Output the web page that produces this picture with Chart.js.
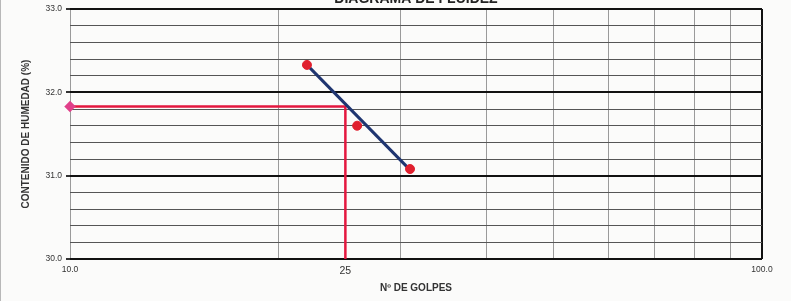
<!DOCTYPE html>
<html>
<head>
<meta charset="utf-8">
<script src="https://cdn.jsdelivr.net/npm/chart.js@4"></script>
<style>
  html, body { margin: 0; padding: 0; background: #fbfbfa; }
  #wrap { width: 791px; height: 301px; position: relative; border-left: 1px solid #b8b8b8; box-sizing: border-box; }
</style>
</head>
<body>
<div id="wrap"><canvas id="grafico" width="790" height="301"></canvas></div>
<script>
// donnees
const golpes = [22, 26, 31];
const humedad = [32.33, 31.60, 31.08];
const tendGolpes = [22, 31];
const tendHumedad = [32.33, 31.07];
const golpesRef = 25;
const limiteLiquido = 31.83;
const xTicks = [10, 20, 25, 30, 40, 50, 60, 70, 80, 90, 100];
const xLabels = { 10: '10.0', 25: '25', 100: '100.0' };

const entero = v => Math.abs(v - Math.round(v)) < 1e-6;

// titre coupe en haut de l'image
const titrePlugin = {
    id: 'titre',
    afterDraw(chart) {
        const c = chart.ctx;
        const a = chart.chartArea;
        c.save();
        c.font = 'bold 14px Arial, "Liberation Sans", sans-serif';
        c.fillStyle = '#222';
        c.textAlign = 'center';
        c.textBaseline = 'alphabetic';
        c.fillText('DIAGRAMA DE FLUIDEZ', (a.left + a.right) / 2, 3);
        c.restore();
    }
};

new Chart(document.getElementById('grafico'), {
    type: 'scatter',
    data: {
        datasets: [
            {
                label: 'Limite',
                type: 'line',
                data: [
                    { x: 10, y: limiteLiquido },
                    { x: golpesRef, y: limiteLiquido },
                    { x: golpesRef, y: 30 }
                ],
                borderColor: '#e4173f',
                borderWidth: 2.5,
                pointStyle: 'rectRot',
                pointRadius: [4, 0, 0],
                pointBackgroundColor: '#e0408a',
                pointBorderColor: '#e0408a',
                tension: 0,
                clip: false,
                order: 3
            },
            {
                label: 'Tendencia',
                type: 'line',
                data: tendGolpes.map((g, i) => ({ x: g, y: tendHumedad[i] })),
                borderColor: '#1f3570',
                borderWidth: 3,
                pointRadius: 0,
                order: 2
            },
            {
                label: 'Ensayos',
                data: golpes.map((g, i) => ({ x: g, y: humedad[i] })),
                pointRadius: 4.5,
                backgroundColor: '#e0202e',
                borderColor: '#e0202e',
                order: 1
            }
        ]
    },
    options: {
        responsive: false,
        animation: false,
        layout: { padding: { top: 8, left: 17, right: 29, bottom: 0 } },
        plugins: {
            legend: { display: false },
            tooltip: { enabled: false }
        },
        scales: {
            x: {
                type: 'logarithmic',
                min: 10,
                max: 100,
                afterBuildTicks: s => { s.ticks = xTicks.map(v => ({ value: v })); },
                afterFit: s => { s.height = 42; },
                border: { display: false },
                grid: {
                    drawTicks: false,
                    color: c => c.tick.value === 25 ? 'rgba(0,0,0,0)' : (c.tick.value === 100 ? '#111' : '#9a9a9a'),
                    lineWidth: c => c.tick.value === 100 ? 2 : 1
                },
                ticks: {
                    autoSkip: false,
                    maxRotation: 0,
                    padding: 6,
                    color: '#333',
                    font: c => ({ size: c.tick && c.tick.value === 25 ? 10.5 : 8.5, family: 'Arial, "Liberation Sans", sans-serif' }),
                    callback: v => xLabels[v] || ''
                },
                title: {
                    display: true,
                    text: 'Nº DE GOLPES',
                    color: '#333',
                    font: { size: 10, weight: 'bold', family: 'Arial, "Liberation Sans", sans-serif' },
                    padding: { top: 0, bottom: 7 }
                }
            },
            y: {
                min: 30,
                max: 33,
                afterFit: s => { s.width = 52; },
                border: { display: false },
                grid: {
                    color: c => entero(c.tick.value) ? '#111' : '#555',
                    lineWidth: c => entero(c.tick.value) ? 2 : 1,
                    tickColor: c => entero(c.tick.value) ? '#333' : 'rgba(0,0,0,0)',
                    tickLength: 4
                },
                ticks: {
                    stepSize: 0.2,
                    autoSkip: false,
                    padding: 4,
                    color: '#333',
                    font: { size: 8.5, family: 'Arial, "Liberation Sans", sans-serif' },
                    callback: v => entero(v) ? Number(v).toFixed(1) : ''
                },
                title: {
                    display: true,
                    text: 'CONTENIDO DE HUMEDAD (%)',
                    color: '#333',
                    font: { size: 10, weight: 'bold', family: 'Arial, "Liberation Sans", sans-serif' },
                    padding: { top: 2, bottom: 0 }
                }
            }
        }
    },
    plugins: [titrePlugin]
});
</script>
</body>
</html>
